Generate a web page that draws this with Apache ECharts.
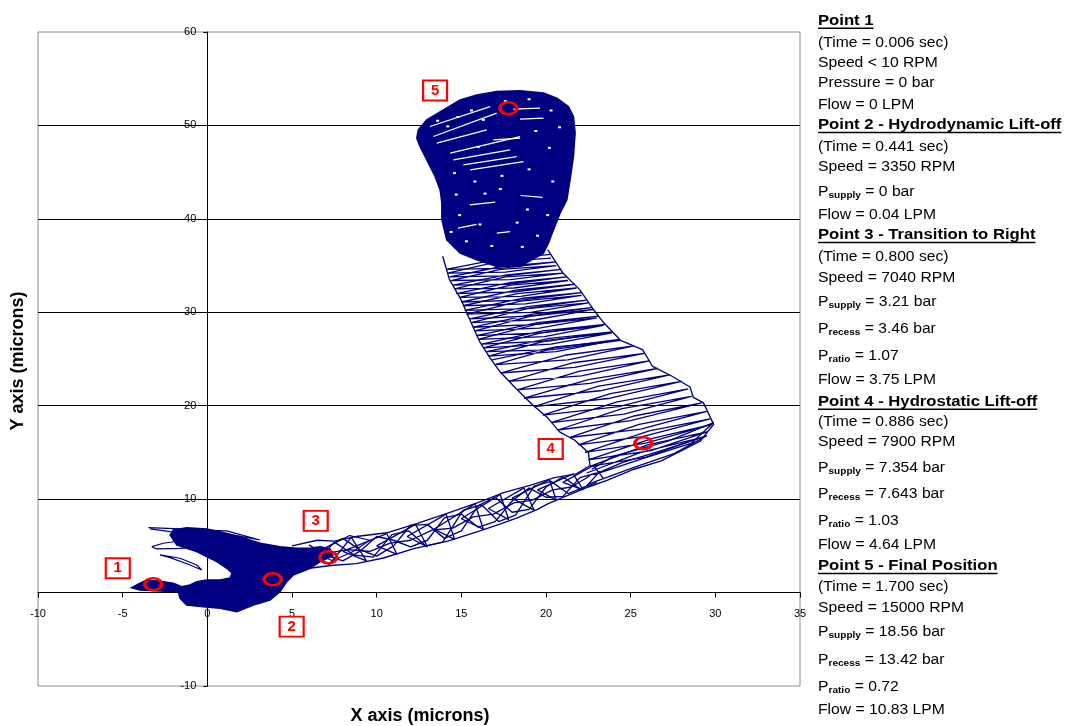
<!DOCTYPE html>
<html><head><meta charset="utf-8">
<script src="https://cdn.jsdelivr.net/npm/echarts@6/dist/echarts.min.js"></script>
<style>html,body{margin:0;padding:0;background:#fff}#c{width:1067px;height:726px}</style>
</head><body><div id="c"></div>
<script>
// ---------------- DATA ----------------
const xRange = [-10, 35, 5];
const yRange = [-10, 60, 10];

// dense cluster near origin (filled)
const blobMain = [[-4.47,0.52],[-3.98,1.00],[-3.58,1.35],[-2.60,1.17],[-2.01,1.00],[-1.51,0.63],[-1.02,0.81],[-0.63,1.17],[-0.04,1.35],[0.75,1.35],[1.34,1.56],[1.46,2.10],[1.15,2.60],[0.56,3.31],[-0.04,3.84],[-0.63,4.38],[-1.22,4.74],[-1.81,5.10],[-2.20,6.17],[-2.01,6.70],[-1.22,6.95],[-0.04,6.81],[0.75,6.52],[1.93,5.98],[3.11,5.28],[4.29,4.91],[5.28,4.74],[6.07,4.74],[6.66,4.91],[7.25,4.67],[7.42,3.92],[6.66,3.31],[6.07,2.60],[5.08,1.88],[4.69,1.17],[4.29,0.10],[3.70,-0.79],[2.72,-1.33],[1.74,-2.05],[0.75,-1.68],[-0.24,-1.51],[-1.22,-1.33],[-1.61,-0.61],[-1.71,0.10],[-2.79,0.17],[-3.98,0.28]];
// dense final-position cluster (filled)
const blobTop = [[12.37,48.64],[12.46,49.53],[12.96,50.60],[13.94,51.67],[14.93,52.74],[15.91,53.27],[17.09,53.63],[18.47,53.70],[19.85,53.46],[20.64,52.92],[21.32,52.02],[21.62,50.95],[21.72,49.18],[21.62,46.67],[21.42,44.18],[21.23,42.03],[20.83,40.61],[20.44,38.82],[20.14,37.40],[19.85,36.33],[18.47,34.89],[17.09,34.89],[15.91,35.61],[14.93,36.33],[14.14,37.75],[13.85,39.89],[13.85,41.68],[13.75,43.10],[13.45,44.53],[12.96,46.32],[12.56,47.74]];

// loops sticking out of the origin cluster
const featherA = [[-3.48,6.95],[-1.61,6.81],[-0.04,6.52],[1.34,5.81],[-0.24,6.09],[-2.20,6.52],[-3.38,6.81]];
const featherB = [[-3.28,4.91],[-2.60,5.28],[-1.22,5.63],[0.56,5.45],[2.33,5.28],[0.75,5.02],[-1.61,4.74],[-2.99,4.67],[-3.28,4.91]];
const featherC = [[-2.79,4.03],[-1.61,3.67],[-0.63,2.95],[-0.33,2.42],[-1.02,2.95],[-2.20,3.74],[-2.79,4.03]];
const featherD = [[-0.84,6.70],[1.15,6.60],[3.11,5.63],[1.74,6.09],[-0.84,6.70]];
const featherE = [[7.0,4.8],[8.4,6.1],[9.6,5.6],[8.6,4.4],[7.4,3.4],[6.4,4.2],[7.0,4.8]];

// band from point 3 towards point 4
const lowerPath1 = [[5.8,4.6],[7.2,3.0],[8.5,5.9],[9.4,3.4],[8.0,4.4],[10.6,6.3],[11.2,4.1],[10.0,5.0],[12.3,7.3],[13.0,4.9],[11.8,6.0],[14.1,8.4],[14.6,5.7],[13.4,6.8],[15.8,9.5],[16.3,6.8],[15.0,7.9],[17.3,10.5],[17.8,7.8],[16.6,9.0],[18.7,11.2],[19.3,8.8],[18.0,10.1],[20.2,12.1],[20.6,9.9],[19.5,11.0],[21.6,12.7],[22.2,11.0],[21.0,11.8],[22.8,13.6],[23.4,12.2]];
const wave1 = [[6.0,5.1],[7.0,4.0],[8.0,3.4],[9.0,4.4],[10.0,6.0],[11.0,5.6],[12.0,4.9],[13.0,5.6],[14.0,8.0],[15.0,8.4],[16.0,7.0],[17.0,7.6],[18.0,9.8],[19.0,11.2],[20.0,10.2],[21.0,10.3],[22.0,12.3],[23.0,12.8]];
const wave2 = [[6.0,3.0],[7.0,4.8],[8.0,5.8],[9.0,4.6],[10.0,3.9],[11.0,5.0],[12.0,7.2],[13.0,7.3],[14.0,5.8],[15.0,6.6],[16.0,9.3],[17.0,10.2],[18.0,8.6],[19.0,8.9],[20.0,11.3],[21.0,12.4],[22.0,11.1],[23.0,11.8]];
const wave3 = [[6.5,3.4],[7.5,5.4],[8.7,4.0],[9.8,3.8],[10.9,6.2],[11.9,6.6],[12.9,5.0],[13.9,5.4],[15.1,8.8],[16.2,9.4],[17.2,7.6],[18.2,8.3],[19.3,11.4],[20.3,11.9],[21.3,10.6],[22.4,11.4],[23.2,13.0]];
const centerPath = [[7.0,4.2],[8.3,4.6],[9.6,4.4],[10.8,5.3],[12.0,5.6],[13.3,6.7],[14.5,6.9],[15.7,8.1],[16.9,8.4],[18.1,9.6],[19.2,9.9],[20.4,11.0],[21.5,11.3],[22.6,12.5]];
const fanPath = [[22.5,11.6],[25.2,13.4],[27.6,14.9],[29.5,16.8],[27.0,15.3],[24.5,13.9],[22.8,12.6],[25.8,14.4],[28.6,16.0],[29.9,18.2],[27.2,16.2],[24.0,14.6],[22.7,13.2]];

// band from point 4 up to point 5
const passesA = [[22.4,12.8],[25.6,15.0],[29.0,16.5],[25.9,14.5],
[22.6,13.5],[26.0,15.8],[29.5,17.2],[26.2,15.2],
[22.5,14.2],[26.3,16.5],[29.8,18.0],[25.9,16.0],
[22.3,15.0],[26.1,17.3],[29.7,18.6],[25.7,16.7],
[21.9,15.8],[25.5,18.0],[29.5,19.4],[25.6,17.5],
[21.4,16.6],[25.2,18.9],[29.2,20.3],[25.0,18.4],
[20.7,17.4],[24.5,19.7],[28.6,21.0],[24.6,19.1],
[20.3,18.2],[24.2,20.4],[28.4,21.8],[24.3,19.9],
[19.8,19.0],[23.8,21.3],[28.0,22.6],[23.8,20.8],
[19.3,19.9],[23.1,22.1],[27.3,23.3],[23.2,21.6],
[18.7,20.8],[22.5,22.8],[26.6,24.0],[22.6,22.4],
[18.3,21.7],[22.0,23.7],[26.1,24.8],[22.1,23.2],
[17.8,22.6],[21.6,24.6],[25.8,25.6],[21.7,24.1],
[17.3,23.5],[21.1,25.4],[25.2,26.4],[21.3,24.9],
[17.0,24.4],[20.5,26.2],[24.3,27.1],[20.6,25.8],
[16.6,25.3],[20.1,27.0],[23.9,27.8],[20.3,26.6],
[16.3,26.2],[19.7,27.8],[23.4,28.6],[19.9,27.4],
[16.0,27.1],[19.4,28.7],[23.0,29.4],[19.6,28.3],
[15.8,28.0],[19.1,29.6],[22.8,30.3],[19.4,29.2],
[15.6,28.9],[18.9,30.4],[22.5,31.0],[19.1,30.0],
[15.3,29.8],[18.5,31.2],[22.1,31.8],[18.8,30.9],
[15.1,30.7],[18.3,32.0],[21.8,32.6],[18.5,31.7],
[14.9,31.6],[17.9,32.9],[21.3,33.4],[18.1,32.6],
[14.6,32.5],[17.6,33.8],[21.0,34.2],[17.9,33.5],
[14.4,33.4],[17.3,34.6],[20.6,35.0],[17.6,34.3],
[14.2,34.2],[17.1,35.4],[20.3,35.8]];
const passesB = [[16.8,24.9],[20.6,26.3],[24.4,27.0],[20.4,26.0],
[16.5,25.8],[20.2,27.2],[23.9,27.9],[20.0,26.9],
[16.2,26.6],[19.8,28.0],[23.5,28.7],[19.7,27.8],
[15.9,27.5],[19.5,28.9],[23.1,29.6],[19.4,28.7],
[15.7,28.4],[19.2,29.8],[22.7,30.5],[19.1,29.6],
[15.5,29.3],[18.9,30.6],[22.4,31.3],[18.8,30.4],
[15.2,30.2],[18.6,31.5],[22.1,32.1],[18.55,31.3],
[15.0,31.1],[18.3,32.4],[21.7,33.0],[18.2,32.2],
[14.7,32.0],[17.95,33.2],[21.2,33.8],[17.8,33.0],
[14.5,32.9],[17.7,34.0],[20.9,34.6],[17.6,33.9],
[14.3,33.8],[17.4,34.9],[20.6,35.4],[17.35,34.7],
[14.1,34.6],[17.2,35.7],[20.3,36.2]];

// outer boundary traces of the band
const lowerEnvelope = [[4.5,2.4],[6.0,2.6],[7.3,2.9],[8.8,3.1],[10.4,3.7],[12.2,4.7],[14.2,5.5],[16.1,6.6],[17.4,7.4],[18.3,8.0],[19.5,8.9],[20.1,9.5],[21.0,10.2],[22.5,11.3],[23.6,12.0],[25.2,13.2],[26.8,14.1],[27.8,15.0],[29.1,16.2],[29.9,18.0],[29.3,20.3],[28.7,20.9],[28.5,22.0],[27.5,23.1],[26.3,24.2],[25.7,26.0],[24.4,27.0],[23.4,28.9],[22.8,30.3],[22.0,32.4],[21.0,34.2],[20.1,36.7]];
const upperEnvelope = [[5.0,5.0],[6.5,5.6],[7.5,5.5],[8.8,6.0],[10.6,6.4],[12.4,7.4],[14.2,8.5],[16.1,9.7],[17.5,10.7],[19.1,11.5],[20.5,12.3],[21.8,12.7],[22.6,13.6],[22.5,15.0],[21.7,16.3],[20.8,17.2],[20.1,18.7],[19.2,20.1],[18.2,21.9],[17.3,23.6],[16.7,25.1],[16.1,26.8],[15.5,29.2],[15.0,31.3],[14.3,33.5],[13.9,36.0]];

// light streaks and specks inside the final-position cluster
const streaks = [
 [[13.15,49.88],[16.70,52.02]],
 [[13.35,48.81],[17.09,51.32]],
 [[13.55,48.10],[16.50,49.53]],
 [[14.34,47.03],[18.47,48.81]],
 [[14.53,46.32],[17.88,47.39]],
 [[15.12,45.78],[18.27,46.67]],
 [[15.52,45.25],[18.67,46.13]],
 [[18.07,51.74],[19.65,51.85]],
 [[18.47,50.67],[19.85,50.78]],
 [[16.89,48.46],[18.47,48.64]],
 [[17.09,38.47],[17.88,38.64]],
 [[15.5,41.5],[17.0,41.8]],
 [[18.5,42.5],[19.8,42.3]],
 [[14.8,39.0],[15.9,39.4]]
];
const specks = [[13.6,50.5],[14.2,49.9],[14.8,50.9],[15.6,51.6],[16.3,50.6],[17.6,52.6],[19.0,52.8],[20.3,51.6],[20.8,49.8],[20.2,47.6],[19.4,49.4],[16.0,47.7],[14.6,44.9],[15.8,44.0],[17.4,44.6],[19.0,45.3],[20.4,44.0],[14.7,42.6],[16.4,42.7],[18.9,41.0],[20.1,40.4],[14.9,40.4],[16.1,39.4],[18.3,39.6],[19.5,38.2],[15.3,37.6],[16.8,37.1],[18.6,37.0],[14.4,38.6],[17.3,43.2]];

// highlighted points and their number boxes
const ringX = [-3.20, 3.86, 7.15, 25.75, 17.78];
const ringY = [0.90, 1.42, 3.78, 15.98, 51.85];
const boxLabels = ['1','2','3','4','5'];
const boxX = [-5.29, 4.98, 6.40, 20.28, 13.45];
const boxY = [2.60, -3.65, 7.67, 15.37, 53.74];

// right-hand annotation text: [kind, text, suffix]
const notes = [
 ['h','Point 1'],
 ['t','(Time = 0.006 sec)'],
 ['t','Speed < 10 RPM'],
 ['t','Pressure = 0 bar'],
 ['t','Flow = 0 LPM'],
 ['h','Point 2 - Hydrodynamic Lift-off'],
 ['t','(Time = 0.441 sec)'],
 ['t','Speed = 3350 RPM'],
 ['s','supply',' = 0 bar'],
 ['t','Flow = 0.04 LPM'],
 ['h','Point 3 - Transition to Right'],
 ['t','(Time = 0.800 sec)'],
 ['t','Speed = 7040 RPM'],
 ['s','supply',' = 3.21 bar'],
 ['s','recess',' = 3.46 bar'],
 ['s','ratio',' = 1.07'],
 ['t','Flow = 3.75 LPM'],
 ['h','Point 4 - Hydrostatic Lift-off'],
 ['t','(Time = 0.886 sec)'],
 ['t','Speed = 7900 RPM'],
 ['s','supply',' = 7.354 bar'],
 ['s','recess',' = 7.643 bar'],
 ['s','ratio',' = 1.03'],
 ['t','Flow = 4.64 LPM'],
 ['h','Point 5 - Final Position'],
 ['t','(Time = 1.700 sec)'],
 ['t','Speed = 15000 RPM'],
 ['s','supply',' = 18.56 bar'],
 ['s','recess',' = 13.42 bar'],
 ['s','ratio',' = 0.72'],
 ['t','Flow = 10.83 LPM']
];
const xTitle = 'X axis (microns)';
const yTitle = 'Y axis (microns)';

// ---------------- LAYOUT / STYLE ----------------
const NAVY = '#000080', RED = '#ff0000';
const FONT = '"Liberation Sans", Arial, Helvetica, sans-serif';
const noteY = [20.7,42.7,62.7,83.3,105,125,146.7,167.3,191.7,215,235,256.7,278.3,301.7,329.3,356,380,401.7,421.7,442.3,467.7,494,520.7,545,566,586.7,608.3,632.3,660,686.7,710];
const NOTE_X = 818, SCALE_REG = 1.12, SCALE_BOLD = 1.19;
const G = {left:38, right:267, top:32, bottom:40, W:1067, H:726};
const gridW = G.W - G.left - G.right, gridH = G.H - G.top - G.bottom;
// place each axis at the other's zero
const xAxisOffset = -((0 - yRange[0]) / (yRange[1] - yRange[0])) * gridH;
const yAxisOffset = -((0 - xRange[0]) / (xRange[1] - xRange[0])) * gridW;

const chart = echarts.init(document.getElementById('c'), null, {renderer:'canvas'});

function polySeries(pts){
  return {type:'custom', coordinateSystem:'cartesian2d', silent:true, animation:false, z:2,
    data: pts, encode:{x:0, y:1},
    renderItem: function(params, api){
      if (params.dataIndex !== 0) return null;
      return {type:'polygon', shape:{points: pts.map(p => api.coord(p))},
        style:{fill:NAVY, stroke:NAVY, lineWidth:1.5}};
    }};
}
function pathSeries(pts, color, width, z){
  return {type:'line', data:pts, symbol:'none', showSymbol:false, silent:true, animation:false,
    z: z || 3, lineStyle:{color:color, width:width}};
}

const series = [polySeries(blobMain), polySeries(blobTop)];
[featherA, featherB, featherC, featherD, featherE].forEach(p => series.push(pathSeries(p, NAVY, 1.2)));
[lowerPath1, wave1, wave2, wave3, centerPath, fanPath, lowerEnvelope, upperEnvelope].forEach(p => series.push(pathSeries(p, NAVY, 1.35)));
[passesA, passesB].forEach(p => series.push(pathSeries(p, NAVY, 1.3)));
streaks.forEach(s => series.push(pathSeries(s, '#ffffff', 1.2, 4)));
series.push({type:'scatter', silent:true, animation:false, z:4, data:specks,
  symbol:'rect', symbolSize:[3,2], itemStyle:{color:'#ffffff', opacity:1}});

series.push({type:'scatter', silent:true, animation:false, z:10,
  data: ringX.map((x,i) => [x, ringY[i]]),
  symbol:'circle', symbolSize:[17,12],
  itemStyle:{color:'rgba(255,255,255,0)', borderColor:RED, borderWidth:3, opacity:1}});
series.push({type:'scatter', silent:true, animation:false, z:10,
  data: boxLabels.map((t,i) => ({name:t, value:[boxX[i], boxY[i]]})),
  symbol:'rect', symbolSize:[24,20],
  itemStyle:{color:'#ffffff', borderColor:RED, borderWidth:2, opacity:1},
  label:{show:true, position:'inside', formatter:'{b}', color:RED, fontWeight:'bold', fontSize:15, fontFamily:FONT}});

// text panel
const mctx = document.createElement('canvas').getContext('2d');
const graphics = [];
notes.forEach((n, i) => {
  const yc = noteY[i];
  if (n[0] === 'h') {
    graphics.push({type:'text', x:NOTE_X, y:yc, scaleX:SCALE_BOLD, silent:true,
      style:{x:0, y:0, text:n[1], fontSize:14, fontWeight:'bold', fontFamily:FONT, fill:'#000', verticalAlign:'middle', align:'left'}});
    mctx.font = 'bold 14px ' + FONT;
    const w = mctx.measureText(n[1]).width * SCALE_BOLD;
    graphics.push({type:'line', silent:true, shape:{x1:NOTE_X, y1:yc+7.5, x2:NOTE_X + w, y2:yc+7.5}, style:{stroke:'#000', lineWidth:1.4}});
  } else if (n[0] === 't') {
    graphics.push({type:'text', x:NOTE_X, y:yc, scaleX:SCALE_REG, silent:true,
      style:{x:0, y:0, text:n[1], fontSize:14, fontFamily:FONT, fill:'#000', verticalAlign:'middle', align:'left'}});
  } else {
    graphics.push({type:'text', x:NOTE_X, y:yc + 0.5, scaleX:SCALE_REG, silent:true,
      style:{x:0, y:0, text:'{m|P}{s|' + n[1] + '}{m|' + n[2] + '}', fill:'#000', verticalAlign:'middle', align:'left',
        fontFamily:FONT, fontSize:14,
        rich:{
          m:{fontSize:14, fontFamily:FONT, fill:'#000', verticalAlign:'top'},
          s:{fontSize:9, fontWeight:'bold', fontFamily:FONT, fill:'#000', verticalAlign:'top', padding:[6,0,0,0]}
        }}});
  }
});
graphics.push({type:'text', x:420, y:716, silent:true,
  style:{text:xTitle, fontSize:18, fontWeight:'bold', fontFamily:FONT, fill:'#000', align:'center', verticalAlign:'middle'}});
graphics.push({type:'text', x:18, y:361, rotation:Math.PI/2, silent:true,
  style:{text:yTitle, fontSize:18, fontWeight:'bold', fontFamily:FONT, fill:'#000', align:'center', verticalAlign:'middle'}});

chart.setOption({
  animation:false,
  backgroundColor:'#ffffff',
  grid:{left:G.left, right:G.right, top:G.top, bottom:G.bottom, show:true, borderColor:'#8c8c8c', borderWidth:1, backgroundColor:'#ffffff'},
  xAxis:{type:'value', min:xRange[0], max:xRange[1], interval:xRange[2], position:'bottom', offset:xAxisOffset,
    axisLine:{show:true, onZero:false, lineStyle:{color:'#000', width:1}},
    axisTick:{show:true, length:5, lineStyle:{color:'#000'}},
    axisLabel:{fontSize:11, color:'#000', margin:16, fontFamily:FONT},
    splitLine:{show:false}},
  yAxis:{type:'value', min:yRange[0], max:yRange[1], interval:yRange[2], position:'left', offset:yAxisOffset,
    axisLine:{show:true, onZero:false, lineStyle:{color:'#000', width:1}},
    axisTick:{show:true, length:4, lineStyle:{color:'#000'}},
    axisLabel:{fontSize:11, color:'#000', margin:11, fontFamily:FONT},
    splitLine:{show:true, showMinLine:false, showMaxLine:false, lineStyle:{color:'#000', width:1}}},
  graphic: graphics,
  series: series
});
</script></body></html>
